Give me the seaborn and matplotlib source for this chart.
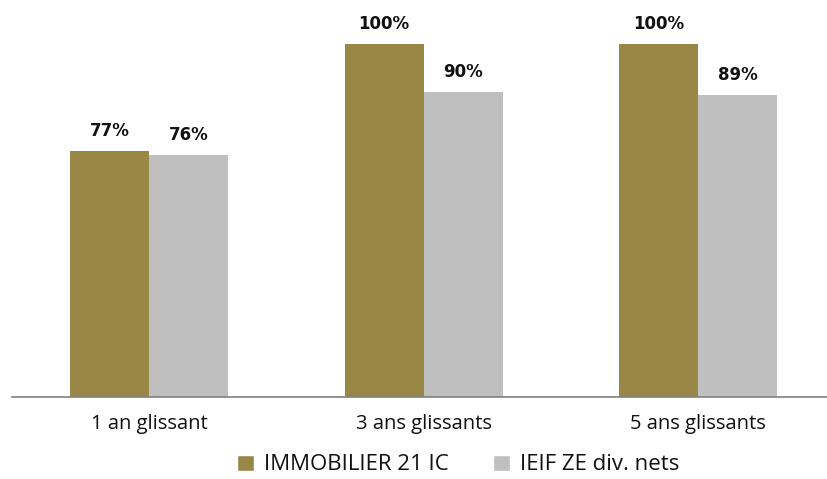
import matplotlib
matplotlib.use("Agg")
import matplotlib.pyplot as plt
import seaborn as sns
import pandas as pd

categories = ["1 an glissant", "3 ans glissants", "5 ans glissants"]
series_names = ["IMMOBILIER 21 IC", "IEIF ZE div. nets"]
immo_values = [0.772, 1.0, 1.0]
ieif_values = [0.764, 0.897, 0.891]
colors = ["#998746", "#BFBFBF"]

df = pd.DataFrame({
    "cat": categories * 2,
    "serie": [series_names[0]] * 3 + [series_names[1]] * 3,
    "val": immo_values + ieif_values,
})

sns.set_theme(style="white")
plt.rcParams["font.family"] = ["Open Sans", "DejaVu Sans"]

W, H = 827, 479
fig = plt.figure(figsize=(W / 100, H / 100), dpi=100)
left_px, right_px, bottom_px, top_px = 12, 827, 397, 44
ax = fig.add_axes([left_px / W, 1 - bottom_px / H, (right_px - left_px) / W, (bottom_px - top_px) / H])

sns.barplot(data=df, x="cat", y="val", hue="serie", palette=colors, width=0.576,
            gap=0, ax=ax, legend=False, saturation=1, linewidth=0)

ax.set_ylim(0.25, 1.0)
ax.set_xlim(-0.5, 2.47)
for c in ax.containers:
    for bar in c:
        v = bar.get_height()
        ax.annotate(f"{round(v*100):.0f}%", (bar.get_x() + bar.get_width() / 2, v),
                    xytext=(0, 8), textcoords="offset points", ha="center", va="bottom",
                    fontsize=12, fontweight="bold", family="DejaVu Sans", color="#111111",
                    annotation_clip=False)

ax.set_xlabel("")
ax.set_ylabel("")
ax.set_yticks([])
for s in ["top", "left", "right"]:
    ax.spines[s].set_visible(False)
ax.spines["bottom"].set_color("#808080")
ax.spines["bottom"].set_linewidth(1.2)
ax.tick_params(axis="x", length=0, pad=12, labelsize=14.5, labelcolor="#111111")

from matplotlib.patches import Patch
handles = [Patch(facecolor=colors[0]), Patch(facecolor=colors[1])]
fig.legend(handles, series_names, loc="center", bbox_to_anchor=(458 / W, 1 - 465 / H),
           ncol=2, frameon=False, fontsize=16, handlelength=0.75, handleheight=0.75,
           handletextpad=0.45, columnspacing=2.0, labelcolor="#111111",
           borderpad=0, borderaxespad=0)

fig.savefig("out.png", dpi=100)
